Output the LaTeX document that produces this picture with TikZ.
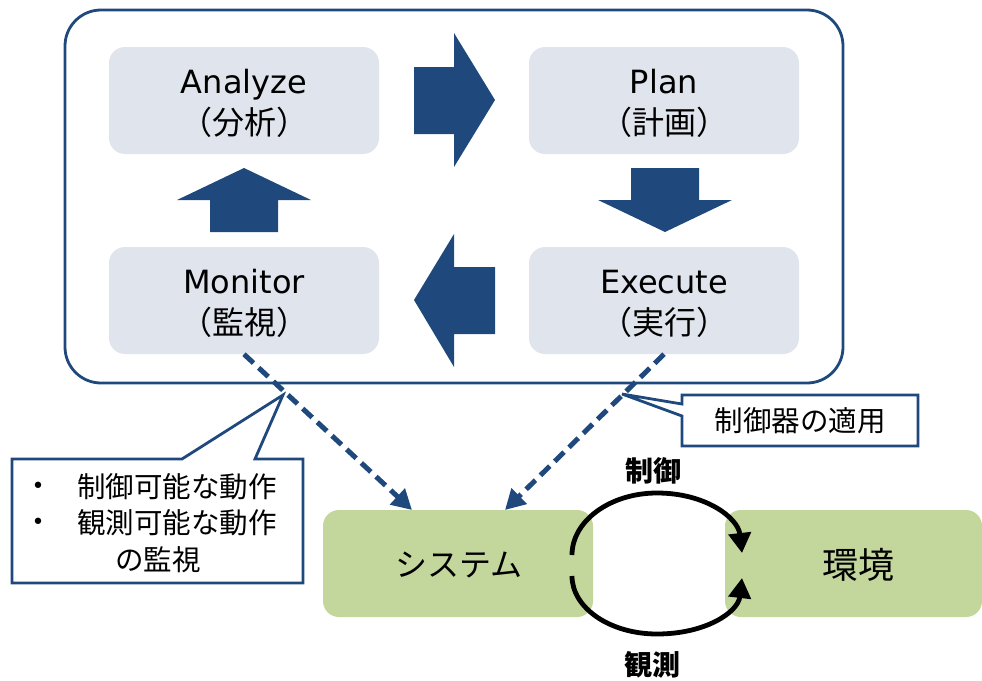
\documentclass[tikz,border=0pt]{standalone}
\usepackage{fontspec}
\setmainfont{DejaVu Sans}
\newfontfamily\jp{Noto Sans CJK JP}
\usetikzlibrary{arrows.meta}
\definecolor{navy}{RGB}{31,73,125}
\definecolor{boxgray}{RGB}{224,228,236}
\definecolor{leaf}{RGB}{195,214,155}

\begin{document}
\begin{tikzpicture}[x=1pt,y=-1pt,
  phase/.style={fill=boxgray, rounded corners=16pt, minimum width=270pt,
    minimum height=107pt, inner sep=0pt},
  phasetext/.style={align=center, inner sep=0pt, yshift=-3pt,
    font=\fontsize{32}{41}\selectfont},
  block/.style={fill=navy},
  world/.style={fill=leaf, rounded corners=16pt, minimum height=107pt,
    inner sep=0pt},
  callout/.style={draw=navy, line width=2.8pt, fill=white, line join=miter},
  note/.style={font=\jp\fontsize{28.5}{34}\selectfont, inner sep=0pt},
  probe/.style={draw=navy, line width=5pt, dash pattern=on 13pt off 7pt,
    -{Triangle[length=20pt,width=21pt]}},
  loopline/.style={draw=black, line width=4.8pt,
    -{Triangle[length=20pt,width=22pt]}},
]
\useasboundingbox (0,0) rectangle (982,680);

% MAPE loop frame
\node[draw=navy, line width=2.8pt, rounded corners=36pt,
      minimum width=778pt, minimum height=373pt, inner sep=0pt]
      (mape) at (454,196.5) {};

% phases
\node[phase] (ana) at (244,100.5) {};
\node[phase] (pln) at (664,100.5) {};
\node[phase] (mon) at (244,300.5) {};
\node[phase] (exe) at (664,300.5) {};
\node[phasetext] (anaT) at (ana) {Analyze\\{\jp （分析）}};
\node[phasetext] (plnT) at (pln) {Plan\\{\jp （計画）}};
\node[phasetext] (monT) at (mon) {Monitor\\{\jp （監視）}};
\node[phasetext] (exeT) at (exe) {Execute\\{\jp （実行）}};

% block arrows between phases
\fill[block] (414,67) -- (454,67) -- (454,33) -- (495,100) -- (454,167)
  -- (454,134) -- (414,134) -- cycle;
\fill[block] (631,168) -- (699,168) -- (699,200) -- (732,200) -- (665,232)
  -- (598,200) -- (631,200) -- cycle;
\fill[block] (495,267) -- (454,267) -- (454,234) -- (414,300) -- (454,367)
  -- (454,334) -- (495,334) -- cycle;
\fill[block] (210,232) -- (210,200) -- (177,200) -- (244,168) -- (311,200)
  -- (278,200) -- (278,232) -- cycle;

% system and environment
\node[world, minimum width=270pt] (sys) at (458,563.5) {};
\node[font=\jp\fontsize{32}{38}\selectfont] (syslbl) at (459,565) {システム};
\node[world, minimum width=257pt] (env) at (853.5,563.5) {};
\node[font=\jp\fontsize{36}{40}\selectfont] (envlbl) at (858,565) {環境};

% callouts
\draw[callout] (12,459) -- (182,459) -- (283,395) -- (255,459) -- (303,459)
  -- (303,583) -- (12,583) -- cycle;
\node[font=\fontsize{22}{26}\selectfont] (b1) at (38,488) {•};
\node[font=\fontsize{22}{26}\selectfont] (b2) at (38,524) {•};
\node[note, anchor=west] (n1) at (77,487) {制御可能な動作};
\node[note, anchor=west] (n2) at (77,523) {観測可能な動作};
\node[note] (n3) at (158,560) {の監視};

\draw[callout] (682,395) -- (918,395) -- (918,446) -- (682,446) -- (682,416)
  -- (622,394) -- (682,404) -- cycle;
\node[note] (n4) at (800,421) {制御器の適用};

% monitoring / actuation links
\coordinate (sysL) at (412,510);
\coordinate (sysR) at (505,510);
\draw[probe] (mon.south) -- (sysL);
\draw[probe] (exe.south) -- (sysR);

% control / observation cycle
\coordinate (ctlS) at (572,555);
\coordinate (ctlE) at (742,553);
\coordinate (obsS) at (572,576);
\coordinate (obsE) at (742,578);
\draw[loopline] (ctlS) .. controls (572,521) and (610,493) .. (657,493)
  .. controls (706,493) and (738,518) .. (ctlE);
\draw[loopline] (obsS) .. controls (572,608) and (610,634) .. (657,634)
  .. controls (706,634) and (738,612) .. (obsE);
\node[font=\jp\bfseries\fontsize{28}{32}\selectfont] (ctl) at (653,471) {制御};
\node[font=\jp\bfseries\fontsize{28}{32}\selectfont] (obs) at (652,665) {観測};
\end{tikzpicture}
\end{document}
